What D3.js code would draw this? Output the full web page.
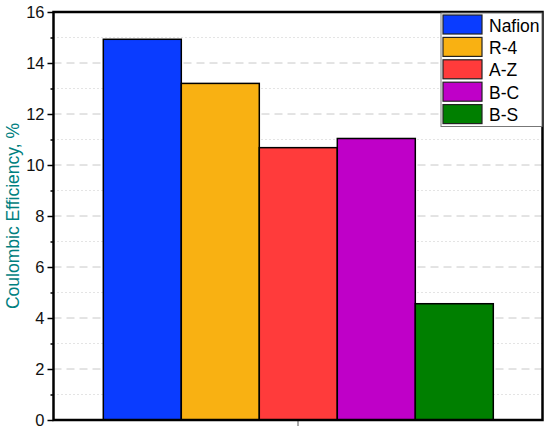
<!DOCTYPE html>
<html><head><meta charset="utf-8">
<script src="https://cdn.jsdelivr.net/npm/d3@7"></script>
<style>body{margin:0;background:#fff}svg{display:block;font-family:Arial,"Liberation Sans",sans-serif}</style>
</head><body><svg id="c" width="550" height="429"></svg>
<script>
const categories = ["Nafion","R-4","A-Z","B-C","B-S"];
const values = [14.93, 13.2, 10.68, 11.04, 4.56];
const colors = ["#0a3cff","#f9b112","#ff3b3b","#bf00c8","#007f00"];
const yTicks = [0,2,4,6,8,10,12,14,16];
const yMinor = [1,3,5,7,9,11,13,15];
const yTitle = "Coulombic Efficiency, %";

const svg = d3.select("#c");
const L=53.5, R=542.5, T=12, B=420;
const y = d3.scaleLinear().domain([0,16]).range([B,T]);
const xg = d3.scaleBand().domain(["g"]).range([L,R]).paddingInner(0).paddingOuter(0.1);
const x = d3.scaleBand().domain(categories).range([103.3, 493.3]);

// grid
svg.append("g").selectAll("line").data(yTicks.filter(v=>v>0&&v<16)).join("line")
  .attr("x1",L).attr("x2",R).attr("y1",d=>y(d)).attr("y2",d=>y(d))
  .attr("stroke","#c8c8c8").attr("stroke-width",1).attr("stroke-dasharray","8,5");
svg.append("g").selectAll("line").data(yMinor).join("line")
  .attr("x1",L).attr("x2",R).attr("y1",d=>y(d)).attr("y2",d=>y(d))
  .attr("stroke","#c8c8c8").attr("stroke-width",1).attr("stroke-dasharray","1,3");

// bars
svg.append("g").selectAll("rect").data(categories).join("rect")
  .attr("x",d=>x(d)).attr("width",x.bandwidth())
  .attr("y",(d,i)=>y(values[i])).attr("height",(d,i)=>y(0)-y(values[i]))
  .attr("fill",(d,i)=>colors[i]).attr("stroke","#000").attr("stroke-width",1.5);

// y axis
const yAxis = d3.axisLeft(y).tickValues(yTicks).tickSize(6).tickPadding(3).tickFormat(d3.format("d"));
const ya = svg.append("g").attr("transform",`translate(${L},0)`).call(yAxis);
ya.select(".domain").remove();
ya.selectAll("line").attr("stroke","#000").attr("stroke-width",1.5);
ya.selectAll("text").attr("font-size",16.5).attr("fill","#111").attr("font-family","Arial,'Liberation Sans',sans-serif");
const yMin = d3.axisLeft(y).tickValues(yMinor).tickSize(3).tickFormat("");
const ym = svg.append("g").attr("transform",`translate(${L},0)`).call(yMin);
ym.select(".domain").remove();
ym.selectAll("line").attr("stroke","#000").attr("stroke-width",1.5);

// x tick at center
const xa = svg.append("g").attr("transform",`translate(0,${B})`).call(d3.axisBottom(xg).tickSize(6).tickFormat(""));
xa.select(".domain").remove();
xa.selectAll("line").attr("stroke","#555").attr("stroke-width",1);

// frame
svg.append("rect").attr("x",L).attr("y",T).attr("width",R-L).attr("height",B-T)
  .attr("fill","none").attr("stroke","#000").attr("stroke-width",2.5);

// y title
svg.append("text").attr("transform",`translate(19,${(T+B)/2}) rotate(-90)`)
  .attr("text-anchor","middle").attr("font-size",17.5).attr("fill","#008080").text(yTitle);

// legend
const lg = svg.append("g");
const lx=441, ly=13, lw=101, rowH=22.4;
lg.append("rect").attr("x",lx).attr("y",ly).attr("width",lw).attr("height",rowH*5+1.5)
  .attr("fill","#fff").attr("stroke","#777").attr("stroke-width",1);
const rows = lg.selectAll("g").data(categories).join("g")
  .attr("transform",(d,i)=>`translate(${lx+2},${ly+2+i*rowH})`);
rows.append("rect").attr("width",39).attr("height",19).attr("fill",(d,i)=>colors[i])
  .attr("stroke","#222").attr("stroke-width",1.2);
rows.append("text").attr("x",46).attr("y",16.5).attr("font-size",17.5).attr("fill","#000").text(d=>d);
</script></body></html>
